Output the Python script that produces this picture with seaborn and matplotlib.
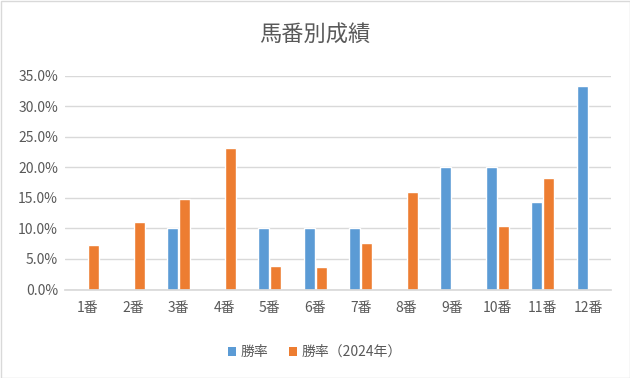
import matplotlib
matplotlib.use("Agg")
import matplotlib.pyplot as plt
import seaborn as sns
import pandas as pd
from matplotlib.patches import Patch
from matplotlib.ticker import PercentFormatter

categories = ["1番", "2番", "3番", "4番", "5番", "6番", "7番", "8番", "9番", "10番", "11番", "12番"]
win_rate = [0, 0, 10.0, 0, 10.0, 10.0, 10.0, 0, 20.0, 20.0, 14.3, 33.3]
win_rate_2024 = [7.3, 11.0, 14.8, 23.1, 3.8, 3.6, 7.6, 16.0, 0, 10.4, 18.2, 0]
series_names = ["勝率", "勝率（2024年）"]
colors = ["#5B9BD5", "#ED7D31"]
title = "馬番別成績"

df = pd.DataFrame({
    "cat": categories * 2,
    "val": win_rate + win_rate_2024,
    "series": [series_names[0]] * len(categories) + [series_names[1]] * len(categories),
})

sns.set_theme(style="white")
plt.rcParams["font.family"] = ["Noto Sans CJK JP", "DejaVu Sans"]

fig = plt.figure(figsize=(6.3, 3.78), dpi=100)
ax = fig.add_axes([65 / 630, 1 - 289.5 / 378, (611 - 65) / 630, (289.5 - 75.5) / 378])

sns.barplot(data=df, x="cat", y="val", hue="series", palette=colors, ax=ax,
            width=0.54, gap=0.1, saturation=1, legend=False, order=categories,
            hue_order=series_names)

ax.set_ylim(0, 35)
ax.set_yticks([0, 5, 10, 15, 20, 25, 30, 35])
ax.yaxis.set_major_formatter(PercentFormatter(decimals=1))
ax.yaxis.grid(True, color="#D9D9D9", linewidth=1)
ax.set_axisbelow(True)
for s in ["top", "right", "left"]:
    ax.spines[s].set_visible(False)
ax.spines["bottom"].set_color("#D9D9D9")
ax.set_xlabel("")
ax.set_ylabel("")
ax.tick_params(axis="both", colors="#595959", labelsize=10, length=0)
ax.tick_params(axis="x", pad=8)
ax.tick_params(axis="y", pad=5)

fig.text(0.5, 1 - 35 / 378, title, ha="center", va="center", fontsize=16, color="#595959")

handles = [Patch(facecolor=c, edgecolor="none") for c in colors]
fig.legend(handles, series_names, loc="center", bbox_to_anchor=(0.5, 1 - 352 / 378), ncol=2,
           frameon=False, fontsize=10, labelcolor="#595959", handlelength=0.6, handleheight=0.6,
           handletextpad=0.3, columnspacing=1.5)

border = plt.Rectangle((0.5 / 630, 0.5 / 378), 1 - 1 / 630, 1 - 1 / 378, transform=fig.transFigure,
                       fill=False, edgecolor="#D9D9D9", linewidth=1)
fig.patches.append(border)

fig.savefig("out.png", dpi=100, facecolor="white")
